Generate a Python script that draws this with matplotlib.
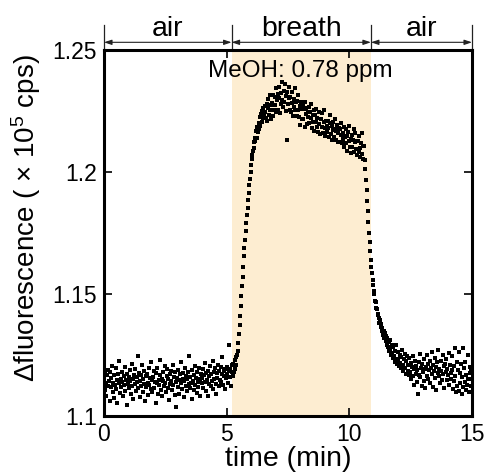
import numpy as np
import matplotlib
matplotlib.use("Agg")
import matplotlib.pyplot as plt

plt.rcParams['font.family'] = ['Liberation Sans', 'DejaVu Sans']
plt.rcParams['mathtext.fontset'] = 'custom'
plt.rcParams['mathtext.rm'] = 'Liberation Sans'
plt.rcParams['mathtext.it'] = 'Liberation Sans:italic'

# ---------------- data ----------------
sample_interval_min = 0.025  # one reading every 1.5 s

air1 = [
    1.1150, 1.1107, 1.1174, 1.1135, 1.1084, 1.1166, 1.1188, 1.1123, 1.1145, 1.1063,
    1.1179, 1.1118, 1.1156, 1.1206, 1.1100, 1.1137, 1.1075, 1.1167, 1.1129, 1.1195,
    1.1111, 1.1148, 1.1055, 1.1171, 1.1134, 1.1227, 1.1094, 1.1153, 1.1119, 1.1182,
    1.1140, 1.1081, 1.1164, 1.1127, 1.1199, 1.1102, 1.1147, 1.1174, 1.1044, 1.1132,
    1.1161, 1.1115, 1.1187, 1.1142, 1.1089, 1.1214, 1.1124, 1.1151, 1.1070, 1.1169,
    1.1131, 1.1191, 1.1103, 1.1158, 1.1139, 1.1244, 1.1116, 1.1177, 1.1078, 1.1143,
    1.1166, 1.1123, 1.1209, 1.1097, 1.1151, 1.1132, 1.1185, 1.1060, 1.1163, 1.1118,
    1.1172, 1.1137, 1.1086, 1.1196, 1.1127, 1.1155, 1.1110, 1.1220, 1.1147, 1.1099,
    1.1158, 1.1183, 1.1113, 1.1139, 1.1052, 1.1175, 1.1134, 1.1198, 1.1091, 1.1148,
    1.1129, 1.1169, 1.1231, 1.1108, 1.1153, 1.1083, 1.1180, 1.1142, 1.1121, 1.1203,
    1.1135, 1.1097, 1.1164, 1.1191, 1.1116, 1.1150, 1.1065, 1.1172, 1.1131, 1.1185,
    1.1143, 1.1105, 1.1211, 1.1126, 1.1161, 1.1087, 1.1179, 1.1139, 1.1038, 1.1156,
    1.1119, 1.1190, 1.1147, 1.1092, 1.1171, 1.1134, 1.1223, 1.1111, 1.1153, 1.1177,
    1.1078, 1.1142, 1.1195, 1.1124, 1.1164, 1.1102, 1.1151, 1.1182, 1.1132, 1.1247,
    1.1115, 1.1159, 1.1137, 1.1068, 1.1187, 1.1145, 1.1107, 1.1169, 1.1206, 1.1127,
    1.1155, 1.1095, 1.1180, 1.1140, 1.1119, 1.1198, 1.1150, 1.1081, 1.1174, 1.1135,
    1.1157, 1.1194, 1.1115, 1.1170, 1.1139, 1.1218, 1.1102, 1.1176, 1.1149, 1.1080,
    1.1184, 1.1133, 1.1163, 1.1206, 1.1122, 1.1173, 1.1144, 1.1226, 1.1109, 1.1181,
    1.1152, 1.1195, 1.1133, 1.1091, 1.1175, 1.1157, 1.1210, 1.1123, 1.1183, 1.1147,
    1.1200, 1.1138, 1.1171, 1.1240, 1.1127, 1.1186, 1.1162, 1.1109, 1.1192, 1.1154,
    1.1172, 1.1200, 1.1135, 1.1186, 1.1290, 1.1159, 1.1192, 1.1125, 1.1180, 1.1210,
]

rise = [
    1.1165, 1.1214, 1.1181, 1.1230, 1.1192, 1.1241, 1.1207, 1.1250,
    1.1268, 1.1301, 1.1335, 1.1372, 1.1410, 1.1452, 1.1491, 1.1532, 1.1570, 1.1612,
    1.1655, 1.1690, 1.1721, 1.1758, 1.1790, 1.1822, 1.1851, 1.1884, 1.1915, 1.1946,
    1.1973, 1.2001, 1.2027, 1.2052, 1.2070, 1.2088, 1.2121, 1.2098, 1.2140, 1.2128,
    1.2169, 1.2141, 1.2186, 1.2163, 1.2201, 1.2178, 1.2224, 1.2189, 1.2236, 1.2203,
    1.2251, 1.2222, 1.2262, 1.2238, 1.2271, 1.2245,
]

plateau = [
    1.2223, 1.2279, 1.2207, 1.2263, 1.2301, 1.2234, 1.2255, 1.2316, 1.2219, 1.2274,
    1.2282, 1.2229, 1.2317, 1.2253, 1.2306, 1.2275, 1.2345, 1.2244, 1.2295, 1.2321,
    1.2256, 1.2350, 1.2302, 1.2241, 1.2323, 1.2277, 1.2368, 1.2297, 1.2266, 1.2333,
    1.2288, 1.2360, 1.2310, 1.2249, 1.2131, 1.2326, 1.2280, 1.2302, 1.2350, 1.2256,
    1.2306, 1.2247, 1.2328, 1.2283, 1.2228, 1.2300, 1.2267, 1.2344, 1.2254, 1.2286,
    1.2230, 1.2291, 1.2256, 1.2317, 1.2227, 1.2271, 1.2194, 1.2259, 1.2286, 1.2217,
    1.2276, 1.2216, 1.2257, 1.2184, 1.2288, 1.2238, 1.2262, 1.2198, 1.2247, 1.2226,
    1.2266, 1.2201, 1.2244, 1.2220, 1.2279, 1.2182, 1.2235, 1.2206, 1.2255, 1.2169,
    1.2234, 1.2204, 1.2258, 1.2185, 1.2222, 1.2165, 1.2245, 1.2197, 1.2154, 1.2216,
    1.2219, 1.2184, 1.2241, 1.2161, 1.2206, 1.2255, 1.2180, 1.2148, 1.2211, 1.2190,
    1.2165, 1.2211, 1.2179, 1.2143, 1.2201, 1.2232, 1.2155, 1.2187, 1.2131, 1.2174,
    1.2203, 1.2145, 1.2177, 1.2218, 1.2130, 1.2166, 1.2193, 1.2121, 1.2159, 1.2181,
    1.2122, 1.2178, 1.2151, 1.2200, 1.2118, 1.2159, 1.2137, 1.2183, 1.2101, 1.2145,
    1.2176, 1.2117, 1.2146, 1.2088, 1.2164, 1.2127, 1.2188, 1.2101, 1.2134, 1.2078,
    1.2151, 1.2103, 1.2132, 1.2177, 1.2080, 1.2122, 1.2160, 1.2093, 1.2068, 1.2129,
    1.2127, 1.2083, 1.2147, 1.2098, 1.2061, 1.2118, 1.2158, 1.2074, 1.2105, 1.2052,
    1.2105, 1.2048,
]

fall = [
    1.2012, 1.1968, 1.1925, 1.1883, 1.1841, 1.1795, 1.1752, 1.1712, 1.1676, 1.1641,
    1.1612, 1.1585, 1.1557, 1.1536, 1.1514, 1.1502, 1.1471, 1.1466, 1.1441, 1.1437,
    1.1412, 1.1419, 1.1402, 1.1381, 1.1392, 1.1363, 1.1378, 1.1349, 1.1361, 1.1332,
    1.1350, 1.1318, 1.1341, 1.1307, 1.1327, 1.1292, 1.1319, 1.1281, 1.1302, 1.1266,
    1.1311, 1.1274, 1.1249, 1.1293, 1.1258, 1.1236, 1.1281, 1.1244, 1.1267, 1.1222,
    1.1289, 1.1235, 1.1213, 1.1261, 1.1228, 1.1204, 1.1252, 1.1219, 1.1195, 1.1243,
    1.1271, 1.1208, 1.1186, 1.1233, 1.1254, 1.1197, 1.1172, 1.1226, 1.1245, 1.1183,
    1.1211, 1.1166, 1.1238,
]

air2 = [
    1.1182, 1.1218, 1.1150, 1.1200, 1.1244, 1.1164, 1.1193, 1.1129, 1.1227, 1.1174,
    1.1206, 1.1141, 1.1187, 1.1090, 1.1221, 1.1168, 1.1254, 1.1158, 1.1196, 1.1125,
    1.1212, 1.1179, 1.1144, 1.1233, 1.1191, 1.1116, 1.1202, 1.1248, 1.1165, 1.1215,
    1.1153, 1.1190, 1.1224, 1.1134, 1.1197, 1.1262, 1.1173, 1.1120, 1.1208, 1.1183,
    1.1236, 1.1156, 1.1200, 1.1105, 1.1220, 1.1176, 1.1269, 1.1162, 1.1193, 1.1137,
    1.1226, 1.1185, 1.1149, 1.1251, 1.1171, 1.1205, 1.1113, 1.1214, 1.1180, 1.1232,
    1.1146, 1.1194, 1.1167, 1.1257, 1.1126, 1.1209, 1.1177, 1.1150, 1.1244, 1.1188,
    1.1112, 1.1205, 1.1142, 1.1280, 1.1165, 1.1098, 1.1222, 1.1125, 1.1188, 1.1262,
    1.1103, 1.1175, 1.1134, 1.1214, 1.1091, 1.1159, 1.1280, 1.1120, 1.1195, 1.1141,
    1.1223, 1.1105, 1.1168, 1.1128, 1.1252, 1.1150, 1.1097, 1.1200, 1.1178, 1.1124,
    1.1188, 1.1150,
]

phase_edges = [0, 5.2, 10.88, 15]
phase_labels = ['air', 'breath', 'air']
annotation = 'MeOH: 0.78 ppm'
x_ticks = [0, 5, 10, 15]
y_ticks = [1.1, 1.15, 1.2, 1.25]
y_tick_labels = ['1.1', '1.15', '1.2', '1.25']

signal = np.array(air1 + rise + plateau + fall + air2)
time_min = np.arange(len(signal)) * sample_interval_min

# ---------------- figure ----------------
fig = plt.figure(figsize=(4.88, 4.75), dpi=100)
ax = fig.add_axes([104 / 488, 1 - 416 / 475, 368 / 488, 366 / 475])

ax.axvspan(phase_edges[1], phase_edges[2], color='#FDEDD1', lw=0, zorder=0)
ax.plot(time_min, signal, ls='none', marker='s', ms=3.0, mfc='black',
        mec='black', mew=0, zorder=3)

ax.set_xlim(0, 15)
ax.set_ylim(1.1, 1.25)
ax.set_xticks(x_ticks)
ax.set_yticks(y_ticks)
ax.set_yticklabels(y_tick_labels)
ax.tick_params(direction='in', length=6, width=1.2, labelsize=16.5,
               top=True, right=True, pad=5)
for s in ax.spines.values():
    s.set_linewidth(2.2)

ax.set_xlabel('time (min)', fontsize=20.5, labelpad=0)
ax.set_ylabel('Δfluorescence ( × 10$^{5}$ cps)', fontsize=20)
ax.yaxis.set_label_coords(-0.165, 0.541)

ax.text(0.533, 0.926, annotation, transform=ax.transAxes, ha='center',
        va='baseline', fontsize=17.5, zorder=5)

# phase markers above the axes
trans = ax.get_xaxis_transform()
for xe in phase_edges:
    ax.plot([xe, xe], [1.0, 1.068], transform=trans, color='#222222', lw=0.9,
            clip_on=False)
for (x0, x1), lab in zip(zip(phase_edges[:-1], phase_edges[1:]), phase_labels):
    ax.annotate('', xy=(x0, 1.021), xytext=(x1, 1.021), xycoords=trans,
                textcoords=trans,
                arrowprops=dict(arrowstyle='<|-|>,head_length=0.45,head_width=0.15',
                                color='#222222', lw=0.8, shrinkA=0, shrinkB=0))
    ax.text((x0 + x1) / 2, 1.038, lab, transform=trans, ha='center',
            va='baseline', fontsize=20.5)

fig.savefig('out.png', dpi=100)
